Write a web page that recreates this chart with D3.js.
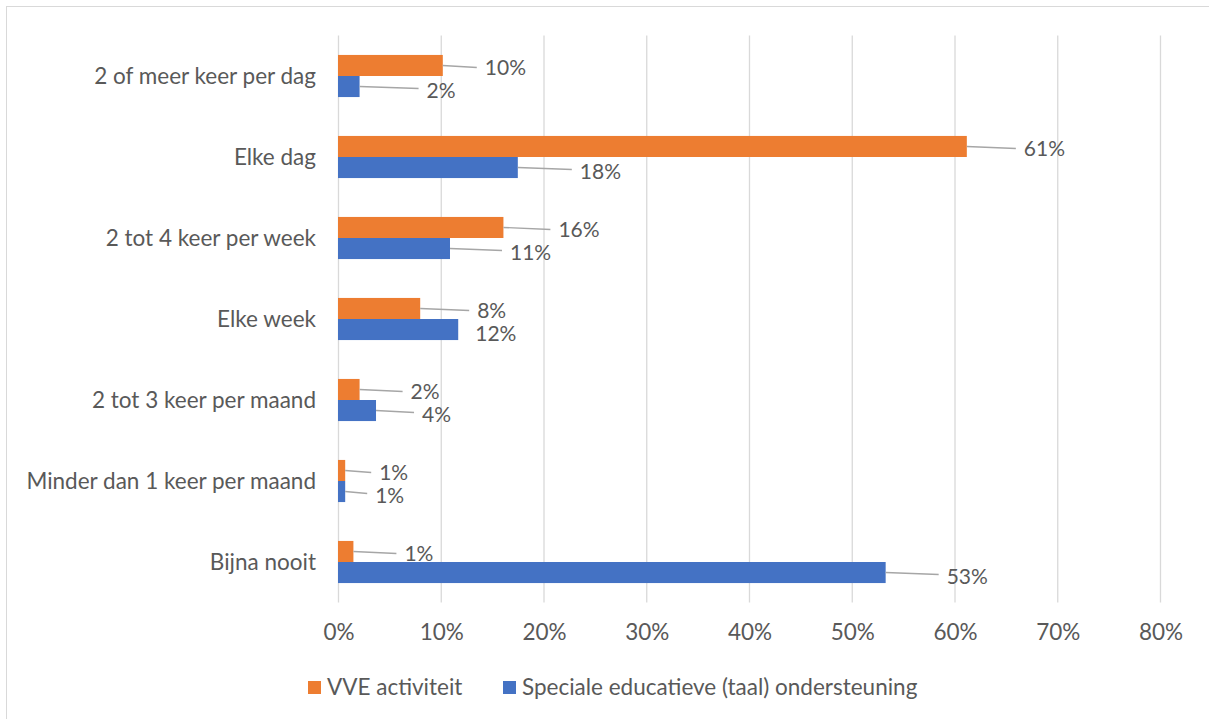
<!DOCTYPE html>
<html><head><meta charset="utf-8">
<script src="https://cdn.jsdelivr.net/npm/d3@7"></script>
<style>body{margin:0;background:#fff}svg{display:block}text{font-family:Lato,"Open Sans",sans-serif;fill:#595959}</style>
</head><body>
<svg id="c" width="1209" height="719"></svg>
<script>
const categories = ["2 of meer keer per dag","Elke dag","2 tot 4 keer per week","Elke week","2 tot 3 keer per maand","Minder dan 1 keer per maand","Bijna nooit"];
const seriesNames = ["VVE activiteit","Speciale educatieve (taal) ondersteuning"];
const vve = [10.2, 61.2, 16.1, 8.0, 2.1, 0.7, 1.5];
const speciaal = [2.1, 17.5, 10.9, 11.7, 3.7, 0.7, 53.3];
const vveLabels = ["10%","61%","16%","8%","2%","1%","1%"];
const speciaalLabels = ["2%","18%","11%","12%","4%","1%","53%"];
const xTicks = [0,10,20,30,40,50,60,70,80];
// label offsets (px from bar end) and whether a leader line is drawn
const vveLabelDx = [42, 57, 55, 57, 51, 34, 51];
const speciaalLabelDx = [67, 62, 60, 17, 46, 30, 61];
const speciaalLeader = [true,true,true,false,true,true,true];

const FS = "22.5px";
const colors = ["#ED7D31","#4472C4"];
const svg = d3.select("#c");
svg.append("rect").attr("x",6.5).attr("y",6.5).attr("width",1220).attr("height",730)
  .attr("fill","none").attr("stroke","#D9D9D9").attr("stroke-width",1);

const m = {left:338, right:1160, top:35.5, bottom:602.5};
const x = d3.scaleLinear().domain([0,80]).range([m.left,m.right]);
const y = d3.scaleBand().domain(categories).range([m.top,m.bottom]).paddingInner(0.48).paddingOuter(0.24);
const ys = d3.scaleBand().domain([0,1]).range([0,y.bandwidth()]);

// gridlines
svg.append("g").selectAll("line").data(xTicks).join("line")
  .attr("x1",d=>x(d)+0.5).attr("x2",d=>x(d)+0.5).attr("y1",m.top).attr("y2",m.bottom)
  .attr("stroke","#D9D9D9").attr("stroke-width",1.3);

// x axis
const xa = svg.append("g").attr("transform",`translate(0.5,${m.bottom})`)
  .call(d3.axisBottom(x).tickValues(xTicks).tickFormat(d=>d+"%").tickSize(0).tickPadding(22));
xa.select(".domain").remove();
xa.selectAll("text").style("font-size",FS).style("font-family","Lato").attr("fill","#595959");

// y labels
svg.append("g").selectAll("text").data(categories).join("text")
  .attr("x",m.left-22).attr("y",d=>y(d)+y.bandwidth()/2).attr("dy","0.35em")
  .attr("text-anchor","end").style("font-size",FS).text(d=>d);

const series = [
  {vals:vve, labels:vveLabels, dx:vveLabelDx, leader:categories.map(()=>true), shift:2},
  {vals:speciaal, labels:speciaalLabels, dx:speciaalLabelDx, leader:speciaalLeader, shift:4.5}
];
series.forEach((s,si)=>{
  const g = svg.append("g");
  g.selectAll("rect").data(categories).join("rect")
    .attr("x",x(0)).attr("y",(d)=>y(d)+ys(si)).attr("height",ys.bandwidth())
    .attr("width",(d,i)=>x(s.vals[i])-x(0)).attr("fill",colors[si]);
  categories.forEach((c,i)=>{
    const xe = x(s.vals[i]);
    const yc = y(c)+ys(si)+ys.bandwidth()/2;
    const lx = xe + s.dx[i];
    if (s.leader[i]) {
      g.append("path").attr("d",`M${xe},${yc} Q${(xe+lx-8)/2},${yc+1} ${lx-8},${yc+2}`)
        .attr("fill","none").attr("stroke","#A6A6A6").attr("stroke-width",1.4);
    }
    g.append("text").attr("x",lx).attr("y",yc+s.shift).attr("dy","0.35em")
      .style("font-size","21px").text(s.labels[i]);
  });
});

// legend
const legX = [308, 503];
seriesNames.forEach((n,i)=>{
  svg.append("rect").attr("x",legX[i]).attr("y",681).attr("width",13).attr("height",13).attr("fill",colors[i]);
  svg.append("text").attr("x",legX[i]+19).attr("y",687).attr("dy","0.35em").style("font-size",FS).text(n);
});
</script>
</body></html>
